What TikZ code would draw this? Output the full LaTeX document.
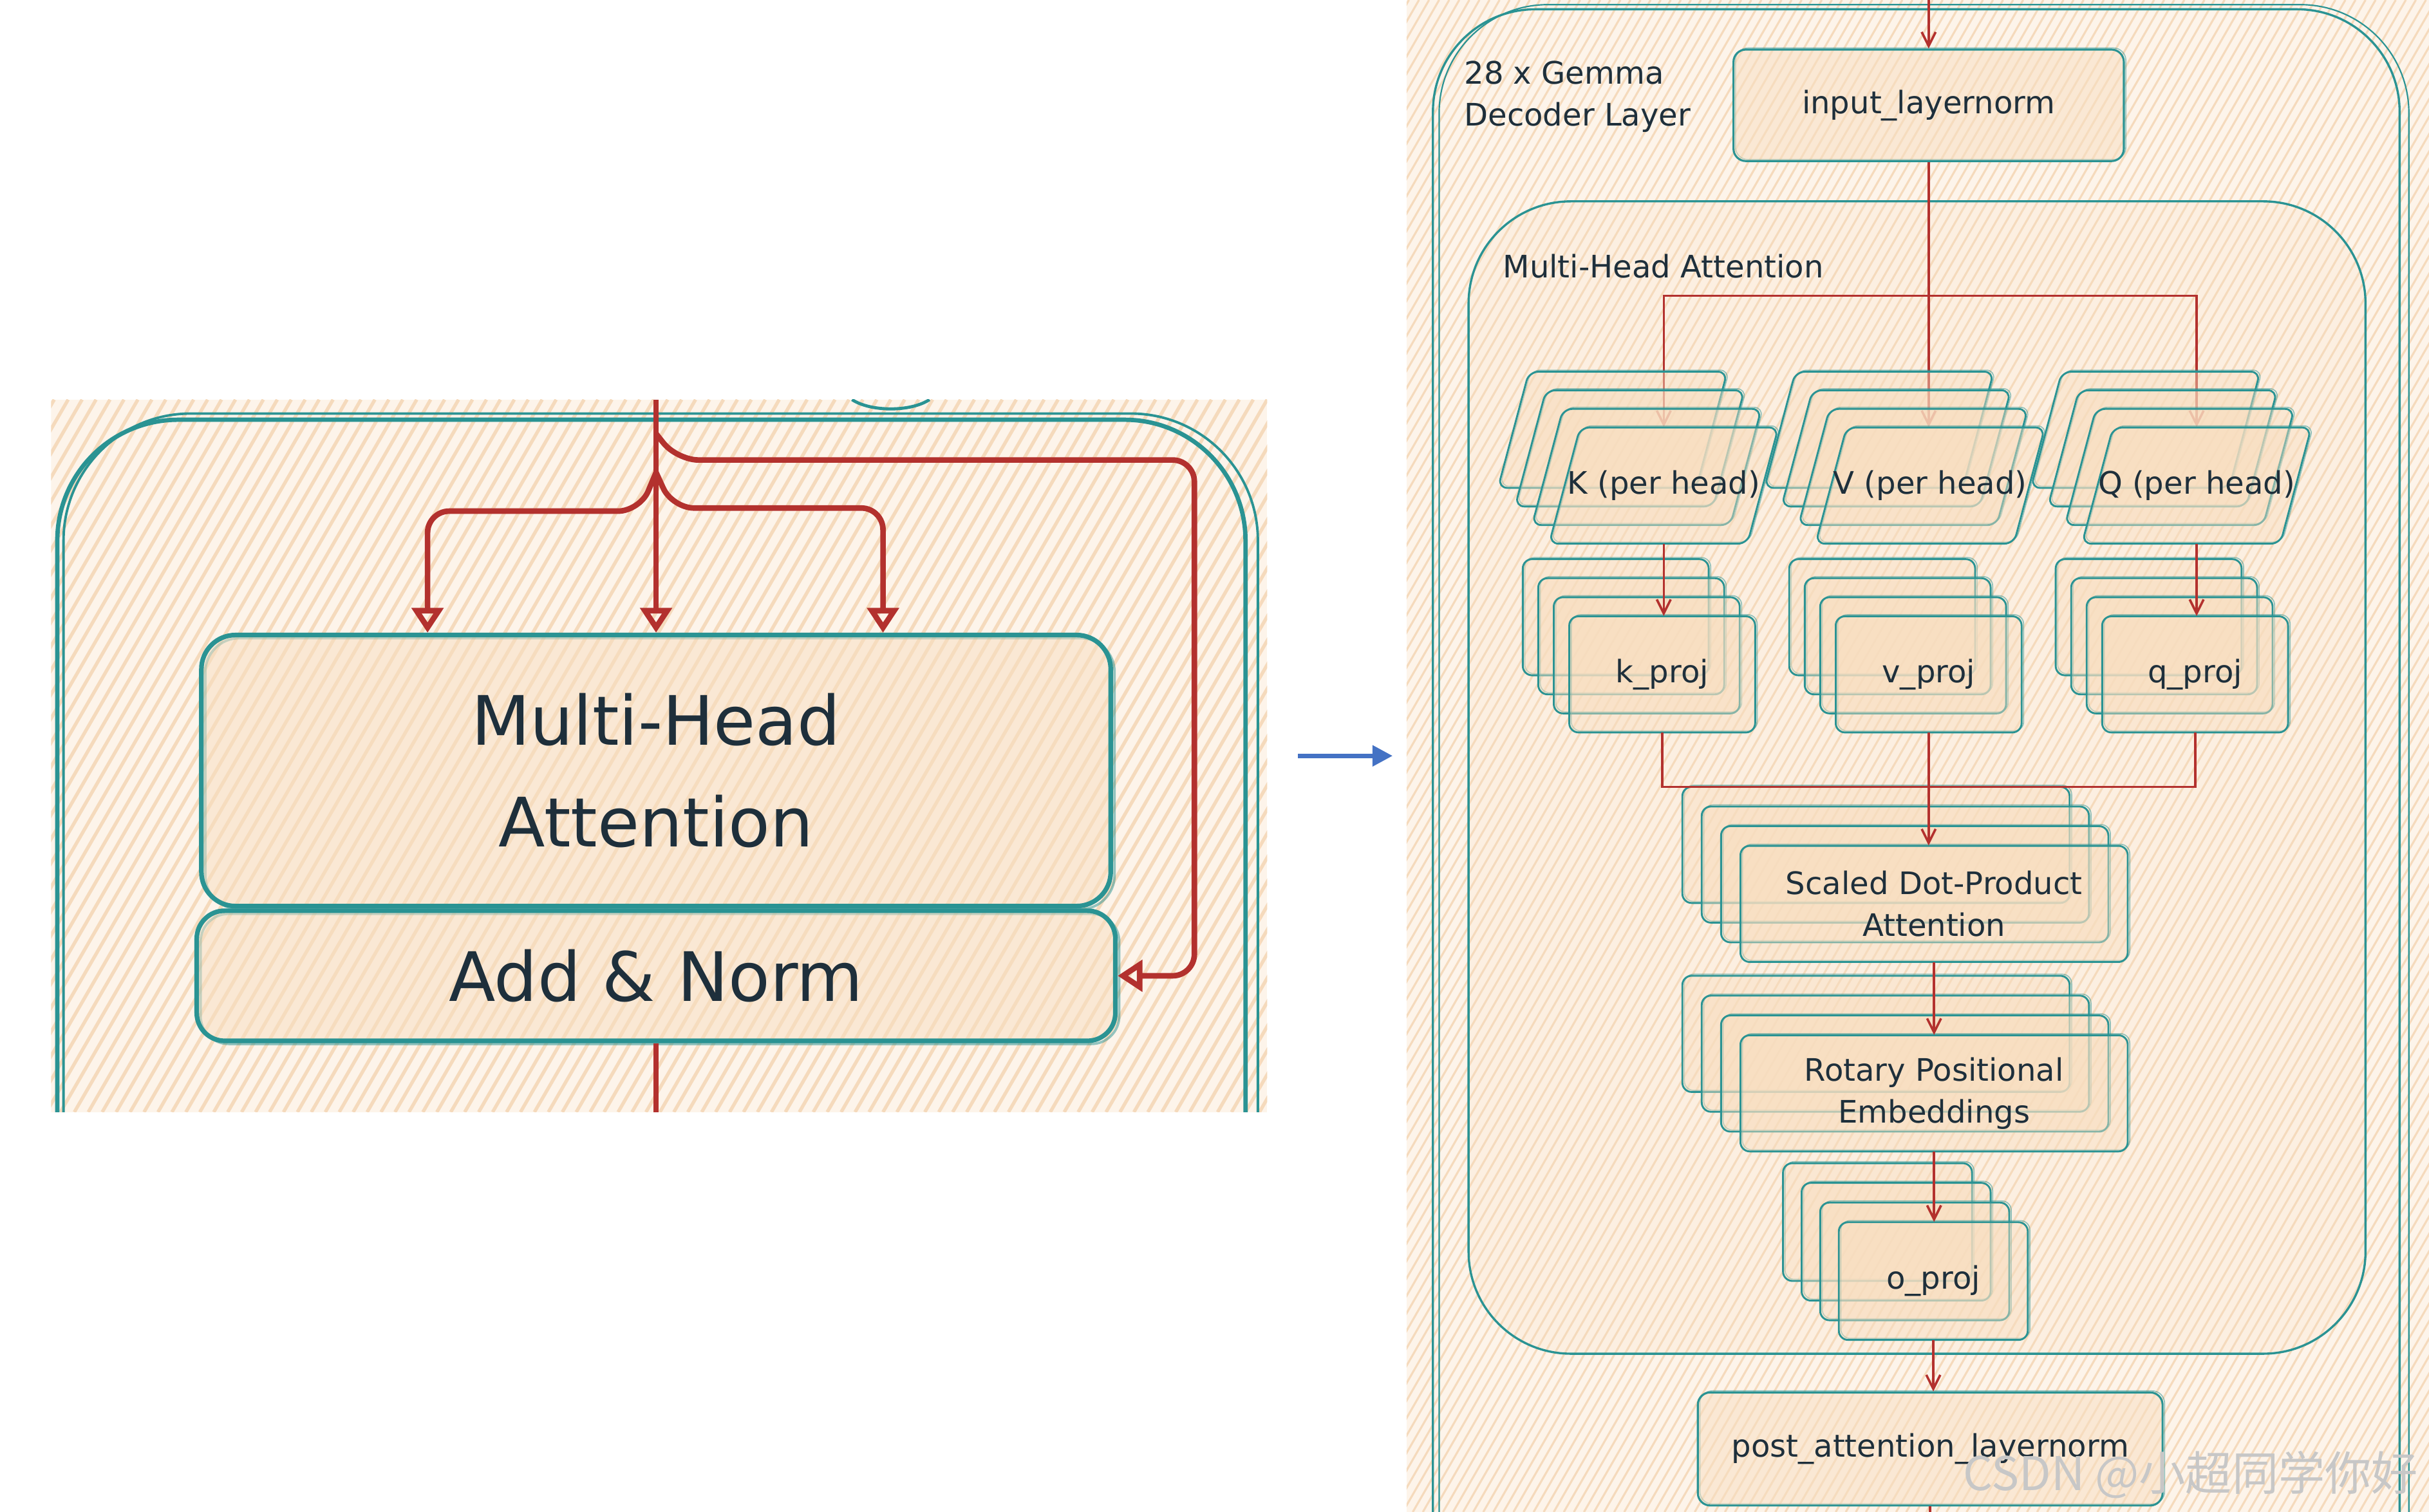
\documentclass[tikz,border=0pt]{standalone}
\usepackage{fontspec}
\setmainfont{DejaVu Sans}
\newfontfamily\cjkfont{Noto Sans CJK SC}
\usetikzlibrary{arrows.meta,calc}
\definecolor{tealc}{HTML}{2A9393}
\definecolor{redc}{HTML}{B3312E}
\definecolor{peach}{HTML}{F8DEC0}
\definecolor{bgpeach}{HTML}{FDF4EA}
\definecolor{hatchc}{HTML}{F5DABC}
\definecolor{inkc}{HTML}{1E2F3B}
\definecolor{bluec}{HTML}{4472C4}
\pgfdeclarelayer{back}
\pgfdeclarelayer{under}
\pgfdeclarelayer{boxes}
\pgfsetlayers{back,under,boxes,main}
\newcommand\rtxtfont{\fontsize{20}{27}\selectfont}
\newcommand\ltxtfont{\fontsize{44}{66}\selectfont}
\tikzset{
  skline/.style={preaction={draw=tealc, draw opacity=0.5, line width=0.7pt, transform canvas={shift={(1.3pt,1pt)}}}},
  lskline/.style={preaction={draw=tealc, draw opacity=0.5, line width=1.6pt, transform canvas={shift={(2.5pt,-2pt)}}}},
  rbox/.style={draw=tealc, line width=1.3pt, fill=peach, fill opacity=0.5, text opacity=1, rounded corners=8pt, text=inkc, font=\rtxtfont, align=center, inner sep=0pt, skline},
  stackbox/.style={draw=tealc, line width=1.2pt, fill=peach, fill opacity=0.45, rounded corners=6pt, skline},
  txt/.style={text=inkc, font=\rtxtfont, align=center, inner sep=0pt},
  lbox/.style={draw=tealc, line width=3pt, fill=peach, fill opacity=0.5, text opacity=1, rounded corners=22pt, text=inkc, font=\ltxtfont, align=center, inner sep=0pt, lskline},
  rline/.style={draw=redc, line width=1.5pt},
  rarr/.style={rline, -{Straight Barb[length=9pt,width=9pt]}},
  lline/.style={draw=redc, line width=3.6pt},
  larr/.style={lline, -{Triangle[open,length=16pt,width=20pt]}},
  tframe/.style={draw=tealc, line width=1.4pt},
}
\newcommand\skstack[7]{%
  \foreach \k in {0,1,2,3}{%
    \draw[stackbox] ({#1+\k*#6+#5},{#2+\k*#7}) -- ({#1+\k*#6+#5+#3},{#2+\k*#7}) -- ({#1+\k*#6+#3},{#2+\k*#7+#4}) -- ({#1+\k*#6},{#2+\k*#7+#4}) -- cycle;
  }}
\begin{document}
\begin{tikzpicture}[x=1pt,y=-1pt]
\useasboundingbox (0,0) rectangle (1568,976.2);
% ---------- backgrounds ----------
\begin{pgfonlayer}{back}
 \begin{scope}
  \clip (33,258) rectangle (818,718);
  \fill[bgpeach] (33,258) rectangle (818,718);
  \foreach \a in {-240,-231,...,820} \draw[hatchc, line width=2.2pt] (\a,718) -- ++(266,-460);
  \draw[tframe, line width=2.8pt, rounded corners=78pt] (37,271) rectangle (804,800);
  \draw[tframe, line width=1.6pt, rounded corners=82pt] (41,267) rectangle (812,800);
  \draw[tframe, line width=2pt] (550,258) .. controls (562,266) and (588,266) .. (600,258);
 \end{scope}
 \begin{scope}
  \clip (908,0) rectangle (1568,976.2);
  \fill[bgpeach] (908,0) rectangle (1568,976.2);
  \foreach \a in {340,346.5,...,1570} \draw[hatchc, line width=1.3pt] (\a,976.2) -- ++(563,-976.2);
  \draw[tframe, rounded corners=66pt] (925,6) rectangle (1549,1100);
  \draw[tframe, line width=0.9pt, rounded corners=70pt] (929,3) rectangle (1555,1100);
  \draw[tframe, fill=peach, fill opacity=0.2, rounded corners=66pt] (948,130) rectangle (1527,874);
 \end{scope}
\end{pgfonlayer}
% ---------- left panel ----------
\node[lbox, minimum width=587pt, minimum height=175pt] (lmha) at (423.5,497.5) {Multi-Head\\Attention};
\node[lbox, rounded corners=18pt, minimum width=593pt, minimum height=84pt] (lan) at (423.5,630) {Add \& Norm};
\coordinate (ltop) at (423.5,258);
\coordinate (lsplit) at (423.5,305);
\coordinate (lres) at (423.5,280);
\coordinate (lbot) at (423.5,718);
\draw[larr] (ltop) -- (lmha.north);
\draw[larr, rounded corners=14pt] (lsplit) -- (413,330) -- (276,330) -- ([xshift=-147.5pt]lmha.north);
\draw[larr, rounded corners=14pt] (lsplit) -- (434,328) -- (570,328) -- ([xshift=146.5pt]lmha.north);
\draw[larr, rounded corners=14pt] (lres) -- (437,297) -- (771,297) -- (771,630) -- (lan.east);
\draw[lline] (lan.south) -- (lbot);
% ---------- blue arrow ----------
\coordinate (bstart) at (838,488);
\coordinate (bend) at (899,488);
\draw[bluec, line width=3pt, -{Triangle[length=13pt,width=13pt]}] (bstart) -- (bend);
% ---------- right panel ----------
\node[rbox, minimum width=252pt, minimum height=72pt] (iln) at (1245,68) {input\_layernorm};
\node[txt, align=left, anchor=west] (declbl) at (945,62.5) {28 x Gemma\\Decoder Layer};
\node[txt, anchor=west] (mhalbl) at (970,172) {Multi-Head Attention};
\begin{pgfonlayer}{boxes}
\skstack{967}{240}{128}{75}{20}{11}{12}
\skstack{1139}{240}{128}{75}{20}{11}{12}
\skstack{1311}{240}{128}{75}{20}{11}{12}
\skstack{983}{361}{120}{75}{0}{10}{12.3}
\skstack{1155}{361}{120}{75}{0}{10}{12.3}
\skstack{1327}{361}{120}{75}{0}{10}{12.3}
\skstack{1086}{508}{250}{75}{0}{12.5}{12.7}
\skstack{1086}{630}{250}{75}{0}{12.5}{12.8}
\skstack{1151}{751}{122}{76}{0}{12}{12.7}
\end{pgfonlayer}
\node[txt, minimum width=128pt, minimum height=75pt] (kph) at (1074,313.5) {K (per head)};
\node[txt, minimum width=128pt, minimum height=75pt] (vph) at (1246,313.5) {V (per head)};
\node[txt, minimum width=128pt, minimum height=75pt] (qph) at (1418,313.5) {Q (per head)};
\node[txt, minimum width=120pt, minimum height=75pt] (kproj) at (1073,435.4) {k\_proj};
\node[txt, minimum width=120pt, minimum height=75pt] (vproj) at (1245,435.4) {v\_proj};
\node[txt, minimum width=120pt, minimum height=75pt] (qproj) at (1417,435.4) {q\_proj};
\node[txt, minimum width=250pt, minimum height=75pt] (sdpa) at (1248.5,583.6) {Scaled Dot-Product\\Attention};
\node[txt, minimum width=250pt, minimum height=75pt] (rope) at (1248.5,705.9) {Rotary Positional\\Embeddings};
\node[txt, minimum width=122pt, minimum height=76pt] (oproj) at (1248,827.1) {o\_proj};
\node[rbox, minimum width=300pt, minimum height=73pt] (pal) at (1246,935.5) {post\_attention\_layernorm};
\coordinate (rtop) at (1245,0);
\coordinate (rsplit) at (1245,191);
\coordinate (rmerge) at (1245,508);
\coordinate (rbot) at (1246,976.2);
\begin{pgfonlayer}{under}
 \draw[rarr] (iln.south) -- (iln.south |- vph.north);
 \draw[rarr] (rsplit) -| (kph.north);
 \draw[rarr] (rsplit) -| (qph.north);
\end{pgfonlayer}
\draw[rarr] (rtop) -- (iln.north);
\draw[rarr] (kph.south) -- (kph.south |- kproj.north);
\draw[rarr] (qph.south) -- (qph.south |- qproj.north);
\draw[rline] (kproj.south) |- (rmerge);
\draw[rline] (qproj.south) |- (rmerge);
\draw[rarr] (vproj.south) -- (vproj.south |- sdpa.north);
\draw[rarr] (sdpa.south) -- (sdpa.south |- rope.north);
\draw[rarr] (rope.south) -- (rope.south |- oproj.north);
\draw[rarr] (oproj.south) -- (oproj.south |- pal.north);
\draw[rline] (pal.south) -- (rbot);
% ---------- watermark ----------
\node[font=\cjkfont\fontsize{30}{30}\selectfont, text=black!22, inner sep=0pt] (wm) at (1414,952) {CSDN @小超同学你好};
\end{tikzpicture}
\end{document}
